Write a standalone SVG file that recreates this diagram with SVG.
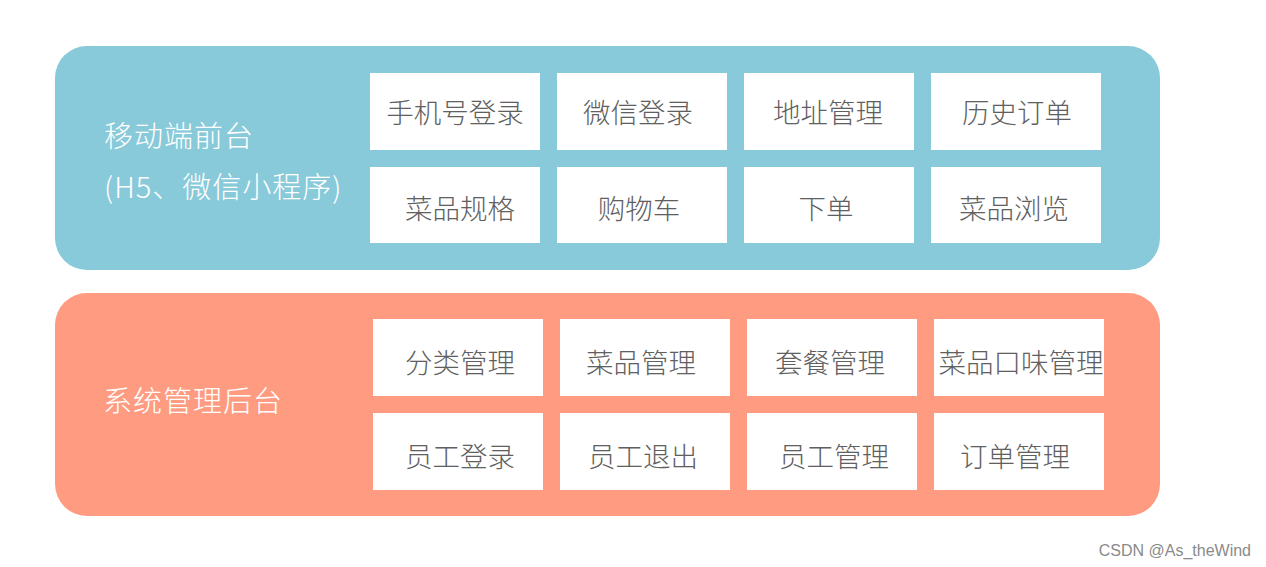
<svg xmlns="http://www.w3.org/2000/svg" width="1266" height="567" viewBox="0 0 1266 567">
<style>
.item{fill:#ffffff}
.it{font-family:"Noto Sans CJK SC","Noto Sans",sans-serif;font-size:27.5px;font-weight:300;fill:#606060;text-anchor:middle}
.lbl{font-family:"Noto Sans CJK SC","Noto Sans",sans-serif;font-size:29px;font-weight:300;fill:#ffffff;letter-spacing:1px}
</style>
<rect x="0" y="0" width="1266" height="567" fill="#ffffff"/>
<g id="mobile">
<rect x="55" y="46" width="1105" height="224" rx="32" fill="#88CAD9"/>
<text class="lbl" x="104" y="147">移动端前台</text>
<text class="lbl" x="104" y="198">(H5、微信小程序)</text>
</g>
<g id="m1"><rect class="item" x="370" y="73" width="170" height="77"/><text class="it" x="455" y="123">手机号登录</text></g>
<g id="m2"><rect class="item" x="557" y="73" width="170" height="77"/><text class="it" x="638" y="123">微信登录</text></g>
<g id="m3"><rect class="item" x="744" y="73" width="170" height="77"/><text class="it" x="828" y="123">地址管理</text></g>
<g id="m4"><rect class="item" x="931" y="73" width="170" height="77"/><text class="it" x="1017" y="123">历史订单</text></g>
<g id="m5"><rect class="item" x="370" y="167" width="170" height="76"/><text class="it" x="460" y="219">菜品规格</text></g>
<g id="m6"><rect class="item" x="557" y="167" width="170" height="76"/><text class="it" x="639" y="219">购物车</text></g>
<g id="m7"><rect class="item" x="744" y="167" width="170" height="76"/><text class="it" x="826" y="219">下单</text></g>
<g id="m8"><rect class="item" x="931" y="167" width="170" height="76"/><text class="it" x="1014" y="219">菜品浏览</text></g>
<g id="admin">
<rect x="55" y="293" width="1105" height="223" rx="32" fill="#FF9B80"/>
<text class="lbl" x="103" y="412">系统管理后台</text>
</g>
<g id="a1"><rect class="item" x="373" y="319" width="170" height="77"/><text class="it" x="460" y="373">分类管理</text></g>
<g id="a2"><rect class="item" x="560" y="319" width="170" height="77"/><text class="it" x="641" y="373">菜品管理</text></g>
<g id="a3"><rect class="item" x="747" y="319" width="170" height="77"/><text class="it" x="830" y="373">套餐管理</text></g>
<g id="a4"><rect class="item" x="934" y="319" width="170" height="77"/><text class="it" x="1021" y="373">菜品口味管理</text></g>
<g id="a5"><rect class="item" x="373" y="413" width="170" height="77"/><text class="it" x="460" y="467">员工登录</text></g>
<g id="a6"><rect class="item" x="560" y="413" width="170" height="77"/><text class="it" x="643" y="467">员工退出</text></g>
<g id="a7"><rect class="item" x="747" y="413" width="170" height="77"/><text class="it" x="834" y="467">员工管理</text></g>
<g id="a8"><rect class="item" x="934" y="413" width="170" height="77"/><text class="it" x="1015" y="467">订单管理</text></g>
<g id="connectors"></g>
<text x="1251" y="556" font-family="'Liberation Sans',Arial,sans-serif" font-size="16" fill="#8a8a8a" text-anchor="end">CSDN @As_theWind</text>
</svg>
